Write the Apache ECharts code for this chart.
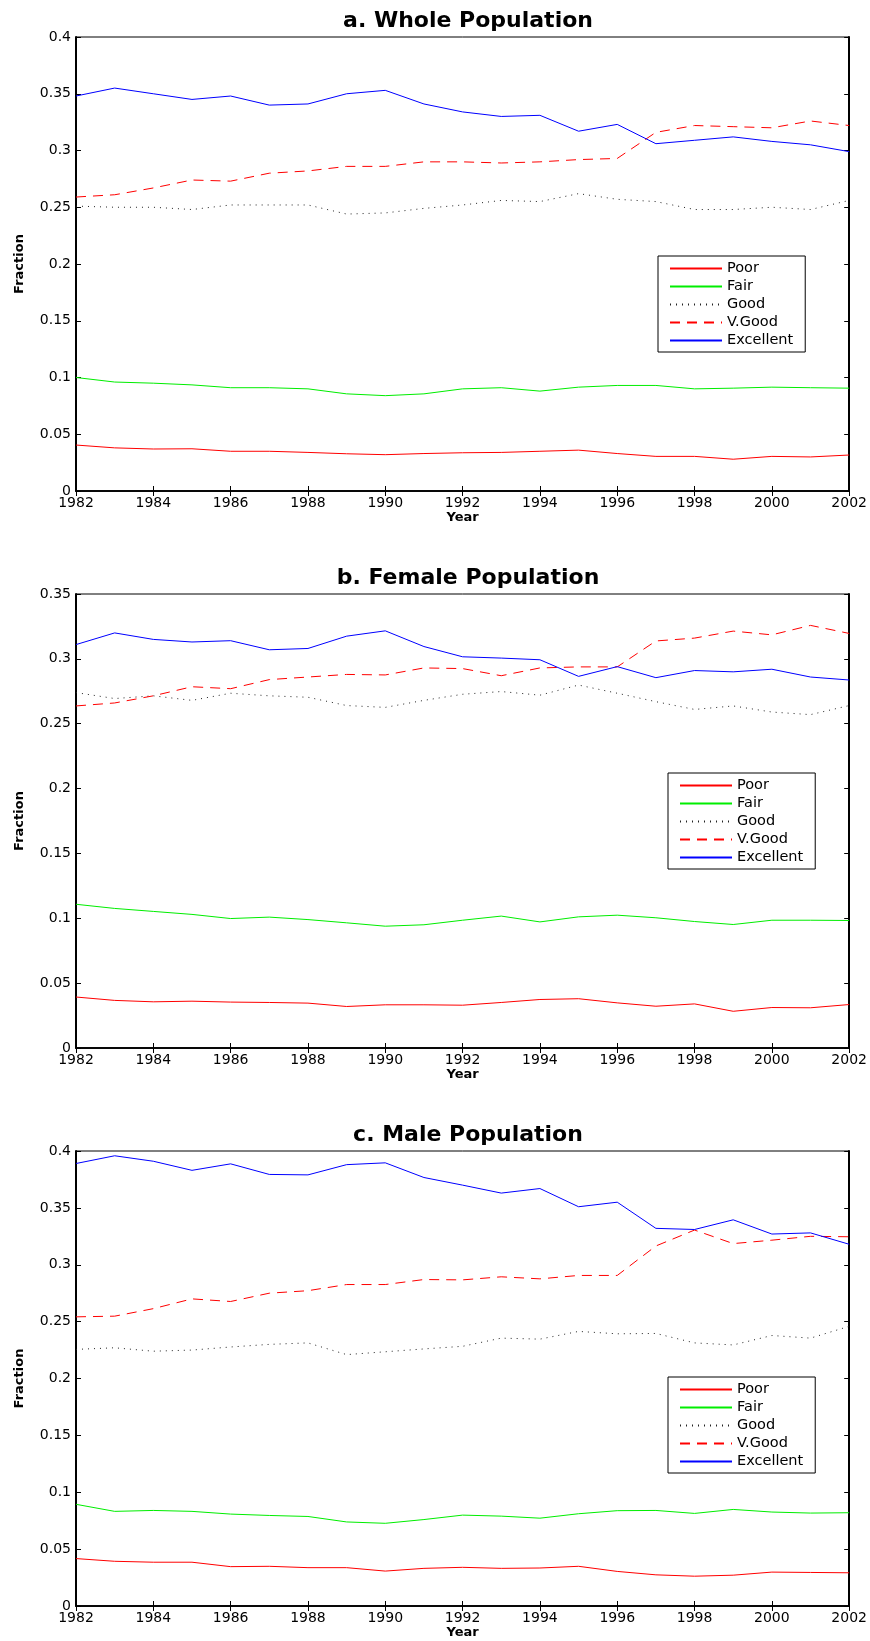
<!DOCTYPE html>
<html>
<head>
<meta charset="utf-8">
<script src="https://cdn.jsdelivr.net/npm/echarts@6/dist/echarts.min.js"></script>
<style>
html,body{margin:0;padding:0;background:#fff;}
#chart{width:870px;height:1641px;}
</style>
</head>
<body>
<div id="chart"></div>
<script>
const years = [1982,1983,1984,1985,1986,1987,1988,1989,1990,1991,1992,1993,1994,1995,1996,1997,1998,1999,2000,2001,2002];
const categories = ['Poor','Fair','Good','V.Good','Excellent'];
const panelTitles = ['a. Whole Population','b. Female Population','c. Male Population'];
const yMaxes = [0.4, 0.35, 0.4];

const wholePoor = [0.0405,0.038,0.037,0.0372,0.035,0.035,0.034,0.0328,0.032,0.033,0.0337,0.034,0.035,0.036,0.033,0.0305,0.0305,0.028,0.0305,0.030,0.0317];
const wholeFair = [0.100,0.096,0.095,0.0935,0.091,0.091,0.090,0.0856,0.084,0.0856,0.090,0.091,0.088,0.0915,0.093,0.093,0.090,0.0906,0.0915,0.091,0.0906];
const wholeGood = [0.251,0.250,0.250,0.248,0.252,0.252,0.252,0.244,0.245,0.249,0.252,0.256,0.255,0.262,0.257,0.255,0.248,0.248,0.250,0.248,0.256];
const wholeVGood = [0.259,0.261,0.267,0.274,0.273,0.280,0.282,0.286,0.286,0.290,0.290,0.289,0.290,0.292,0.293,0.316,0.322,0.321,0.320,0.326,0.322];
const wholeExcellent = [0.348,0.355,0.350,0.345,0.348,0.340,0.341,0.350,0.353,0.341,0.334,0.330,0.331,0.317,0.323,0.306,0.309,0.312,0.308,0.305,0.299];

const femalePoor = [0.0393,0.0367,0.0356,0.0361,0.0354,0.0351,0.0346,0.032,0.0333,0.0333,0.033,0.0351,0.0374,0.038,0.0348,0.0322,0.034,0.0283,0.0312,0.031,0.0335];
const femaleFair = [0.1108,0.1076,0.1053,0.103,0.0998,0.1009,0.099,0.0965,0.0939,0.095,0.0985,0.1017,0.0972,0.1011,0.1024,0.1004,0.0975,0.0952,0.0985,0.0985,0.0983];
const femaleGood = [0.274,0.2694,0.2715,0.268,0.2735,0.2715,0.2704,0.264,0.2626,0.268,0.2727,0.2748,0.272,0.2798,0.2735,0.267,0.261,0.2637,0.259,0.257,0.264];
const femaleVGood = [0.2637,0.266,0.2715,0.2785,0.277,0.284,0.286,0.288,0.2876,0.293,0.2925,0.287,0.293,0.2938,0.2938,0.3138,0.316,0.3214,0.3185,0.3258,0.3196];
const femaleExcellent = [0.311,0.320,0.315,0.313,0.314,0.307,0.308,0.3175,0.3216,0.3095,0.3016,0.3006,0.2993,0.2865,0.294,0.2855,0.291,0.290,0.292,0.286,0.2837];

const malePoor = [0.0417,0.0393,0.0385,0.0385,0.0346,0.0349,0.0337,0.0337,0.0307,0.0331,0.034,0.0331,0.0334,0.0349,0.0304,0.0274,0.0262,0.0271,0.0298,0.0295,0.0292];
const maleFair = [0.0894,0.0832,0.084,0.0832,0.0808,0.0796,0.0787,0.0739,0.0727,0.076,0.0799,0.079,0.0772,0.0811,0.0838,0.084,0.0814,0.0849,0.0826,0.0817,0.082];
const maleGood = [0.2256,0.227,0.224,0.225,0.2277,0.230,0.2313,0.221,0.2235,0.226,0.2283,0.2355,0.2346,0.2414,0.2393,0.2396,0.2313,0.2295,0.2378,0.2355,0.2459];
const maleVGood = [0.2542,0.2548,0.2614,0.270,0.2677,0.275,0.2772,0.2826,0.2826,0.287,0.2867,0.2894,0.2876,0.2906,0.2906,0.3165,0.3305,0.3186,0.3216,0.325,0.3246];
const maleExcellent = [0.389,0.3958,0.391,0.383,0.3887,0.3794,0.379,0.388,0.3896,0.3767,0.370,0.363,0.367,0.351,0.355,0.332,0.331,0.3395,0.327,0.328,0.318];

const panels = [
  [wholePoor, wholeFair, wholeGood, wholeVGood, wholeExcellent],
  [femalePoor, femaleFair, femaleGood, femaleVGood, femaleExcellent],
  [malePoor, maleFair, maleGood, maleVGood, maleExcellent]
];

const styles = [
  {color:'#ff0000', type:'solid'},
  {color:'#00ee00', type:'solid'},
  {color:'#222222', type:[1,5]},
  {color:'#ff0000', type:[10,7]},
  {color:'#0000ff', type:'solid'}
];

const gridTops = [37, 594, 1151];
const gridHeights = [454, 454, 455];
const legendPos = [[658, 256], [668, 773], [668, 1377]];
const FONT = 'DejaVu Sans';

const grids = [], xAxes = [], yAxes = [], series = [], titles = [], legends = [];
for (let p = 0; p < 3; p++) {
  grids.push({left:76, top:gridTops[p], width:775, height:gridHeights[p], show:true, borderColor:'#000', borderWidth:1, backgroundColor:'#fff'});
  titles.push({text:panelTitles[p], left:463, top:gridTops[p]-32, textAlign:'center',
    textStyle:{fontFamily:FONT, fontWeight:'bold', fontSize:22, color:'#000'}});
  const xCommon = {type:'value', gridIndex:p, min:1982, max:2002, interval:2, splitLine:{show:false},
    axisLine:{lineStyle:{color:'#000', width:1.5}}, axisTick:{inside:true, length:5, lineStyle:{color:'#000'}}};
  xAxes.push(Object.assign({}, xCommon, {position:'bottom', name:'Year', nameLocation:'middle', nameGap:19,
    nameTextStyle:{fontFamily:FONT, fontWeight:'bold', fontSize:13, color:'#000'},
    axisLabel:{margin:5, fontFamily:FONT, fontSize:14, color:'#000', formatter:v => String(v)}}));
  xAxes.push(Object.assign({}, xCommon, {position:'top', axisLabel:{show:false}}));
  const yCommon = {type:'value', gridIndex:p, min:0, max:yMaxes[p], interval:0.05, splitLine:{show:false},
    axisLine:{show:true, lineStyle:{color:'#000', width:2}}, axisTick:{show:true, inside:true, length:5, lineStyle:{color:'#000'}}};
  yAxes.push(Object.assign({}, yCommon, {position:'left', name:'Fraction', nameLocation:'middle', nameGap:50,
    nameTextStyle:{fontFamily:FONT, fontWeight:'bold', fontSize:13, color:'#000'},
    axisLabel:{margin:5, fontFamily:FONT, fontSize:14, color:'#000', formatter:v => String(+v.toFixed(2))}}));
  yAxes.push(Object.assign({}, yCommon, {position:'right', axisLabel:{show:false}}));
  for (let s = 0; s < 5; s++) {
    series.push({
      type:'line', name:categories[s], xAxisIndex:2*p, yAxisIndex:2*p,
      data: years.map((y, i) => [y, panels[p][s][i]]),
      symbol:'none', silent:true, animation:false,
      lineStyle:{color:styles[s].color, width:1, type:styles[s].type},
      itemStyle:{color:styles[s].color}
    });
  }
  legends.push({
    data:categories, orient:'vertical', left:legendPos[p][0], top:legendPos[p][1],
    padding:[5, 12, 4, 11], itemGap:3, itemWidth:52, itemHeight:14,
    borderColor:'#000', borderWidth:1, backgroundColor:'#fff', selectedMode:false,
    itemStyle:{opacity:0},
    textStyle:{fontFamily:FONT, fontSize:14.5, color:'#000'}
  });
}

const chart = echarts.init(document.getElementById('chart'), null, {renderer:'canvas'});
chart.setOption({
  animation:false,
  backgroundColor:'#fff',
  title:titles, grid:grids, xAxis:xAxes, yAxis:yAxes, legend:legends, series:series
});
</script>
</body>
</html>
